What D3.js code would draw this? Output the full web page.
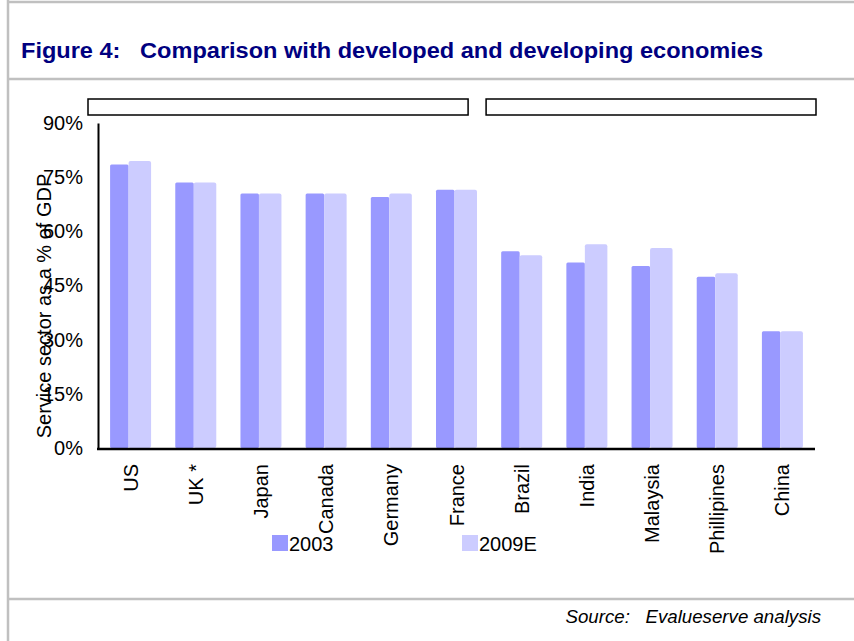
<!DOCTYPE html>
<html>
<head>
<meta charset="utf-8">
<script src="https://cdn.jsdelivr.net/npm/d3@7"></script>
<style>
  body { margin: 0; background: #fff; }
  svg { display: block; font-family: "Liberation Sans", Arial, sans-serif; }
</style>
</head>
<body>
<div id="chart"></div>
<script>
// data
var countries = ['US', 'UK *', 'Japan', 'Canada', 'Germany', 'France', 'Brazil', 'India', 'Malaysia', 'Phillipines', 'China']
var series = ['2003', '2009E']
var values2003 = [78.5, 73.5, 70.5, 70.5, 69.5, 71.5, 54.5, 51.4, 50.4, 47.4, 32.3]
var values2009E = [79.5, 73.5, 70.5, 70.5, 70.5, 71.5, 53.4, 56.4, 55.4, 48.4, 32.3]
var yTicks = [0, 15, 30, 45, 60, 75, 90]
var groups = [
  { name: 'developed', first: 'US', last: 'France' },
  { name: 'developing', first: 'Brazil', last: 'China' }
]

var colors = { '2003': '#9999ff', '2009E': '#ccccff' }

var W = 854, H = 641
var svg = d3.select('#chart').append('svg')
  .attr('width', W)
  .attr('height', H)

/**
 * frame
 */
var frame = svg.append('g')
  .attr('stroke', '#c0c0c0')
  .attr('stroke-width', 2.5)
frame.append('line').attr('x1', 8).attr('y1', 0).attr('x2', 8).attr('y2', H)
frame.append('line').attr('x1', 8).attr('y1', 2).attr('x2', W).attr('y2', 2)
frame.append('line').attr('x1', 8).attr('y1', 79).attr('x2', W).attr('y2', 79)
frame.append('line').attr('x1', 8).attr('y1', 599).attr('x2', W).attr('y2', 599)

svg.append('text')
  .attr('x', 21)
  .attr('y', 58)
  .attr('fill', '#000080')
  .style('font-size', '22.5px')
  .style('font-weight', 'bold')
  .attr('textLength', 742)
  .attr('lengthAdjust', 'spacingAndGlyphs')
  .attr('xml:space', 'preserve')
  .text('Figure 4:   Comparison with developed and developing economies')

svg.append('text')
  .attr('x', 821)
  .attr('y', 623)
  .attr('text-anchor', 'end')
  .style('font-size', '18.7px')
  .style('font-style', 'italic')
  .attr('xml:space', 'preserve')
  .text('Source:   Evalueserve analysis')

/**
 * scales
 */
var plot = { left: 98, right: 815, top: 123, bottom: 448 }

var x0 = d3.scaleBand()
  .domain(countries)
  .range([plot.left, plot.right])

var groupW = 41
var x1 = d3.scaleBand()
  .domain(series)
  .range([0, groupW])

var y = d3.scaleLinear()
  .domain([0, 90])
  .range([plot.bottom, plot.top])

// group header boxes
groups.forEach(function (g, i) {
  var left = i == 0 ? x0(g.first) - 10 : x0(g.first) - 3
  var right = i == 0 ? x0(g.last) + x0.bandwidth() - 21 : x0(g.last) + x0.bandwidth() + 1
  svg.append('rect')
    .attr('x', left)
    .attr('y', 99)
    .attr('width', right - left)
    .attr('height', 16)
    .attr('fill', '#fff')
    .attr('stroke', '#000')
    .attr('stroke-width', 1.5)
})

/**
 * bars
 */
var rows = countries.map(function (c, i) {
  return { country: c, '2003': values2003[i], '2009E': values2009E[i] }
})

var off = (x0.bandwidth() - groupW) / 2

var bars = svg.append('g')
rows.forEach(function (r) {
  var gx = x0(r.country) + off
  bars.append('rect')
    .attr('x', gx + x1('2003'))
    .attr('y', y(r['2003']))
    .attr('width', x1.bandwidth() - 2)
    .attr('height', y(0) - y(r['2003']))
    .attr('rx', 1.5)
    .attr('fill', colors['2003'])
  bars.append('rect')
    .attr('x', gx + x1('2009E') - 2)
    .attr('y', y(r['2009E']))
    .attr('width', x1.bandwidth() + 2)
    .attr('height', y(0) - y(r['2009E']))
    .attr('rx', 2)
    .attr('fill', colors['2009E'])
})

/**
 * axes
 */
var yAxis = svg.append('g')
  .attr('transform', 'translate(' + plot.left + ',0)')
  .call(d3.axisLeft(y).tickValues(yTicks).tickSize(0).tickPadding(15).tickFormat(function (d) { return d + '%' }))
yAxis.select('.domain').attr('stroke', '#000').attr('stroke-width', 2)
yAxis.selectAll('text')
  .style('font-size', '20px')
  .style('font-family', '"Liberation Sans", Arial, sans-serif')
  .attr('fill', '#000')

svg.append('line')
  .attr('x1', plot.left - 1)
  .attr('x2', plot.right)
  .attr('y1', plot.bottom + 1)
  .attr('y2', plot.bottom + 1)
  .attr('stroke', '#000')
  .attr('stroke-width', 2.5)

var xLabels = svg.append('g')
countries.forEach(function (c) {
  var cx = x0(c) + x0.bandwidth() / 2
  xLabels.append('text')
    .attr('transform', 'translate(' + cx + ',464) rotate(-90)')
    .attr('text-anchor', 'end')
    .attr('dy', '0.35em')
    .style('font-size', '20px')
    .text(c)
})

svg.append('text')
  .attr('transform', 'translate(44,306) rotate(-90)')
  .attr('text-anchor', 'middle')
  .attr('dy', '0.35em')
  .style('font-size', '20px')
  .text('Service sector as a % of GDP')

/**
 * legend
 */
var legend = [
  { key: '2003', x: 272 },
  { key: '2009E', x: 462 }
]
legend.forEach(function (l) {
  svg.append('rect')
    .attr('x', l.x)
    .attr('y', 535)
    .attr('width', 16)
    .attr('height', 16)
    .attr('fill', colors[l.key])
  svg.append('text')
    .attr('x', l.x + 17)
    .attr('y', 551)
    .style('font-size', '20px')
    .text(l.key)
})
</script>
</body>
</html>
